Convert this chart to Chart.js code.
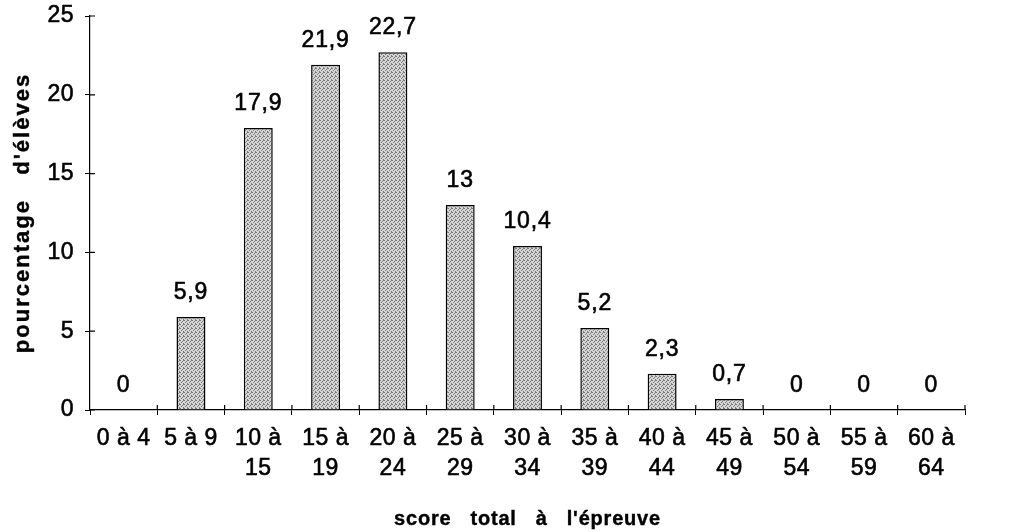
<!DOCTYPE html>
<html>
<head>
<meta charset="utf-8">
<script src="https://cdn.jsdelivr.net/npm/chart.js@4"></script>
<style>
  html, body { margin: 0; padding: 0; background: #fff; }
  #wrap { width: 1013px; height: 532px; }
</style>
</head>
<body>
<div id="wrap"><canvas id="myChart"></canvas></div>
<script>
// score classes and percentage of pupils
const categories = [
  "0 à 4", "5 à 9", ["10 à", "15"], ["15 à", "19"], ["20 à", "24"],
  ["25 à", "29"], ["30 à", "34"], ["35 à", "39"], ["40 à", "44"],
  ["45 à", "49"], ["50 à", "54"], ["55 à", "59"], ["60 à", "64"],
];
const percentages = [0, 5.9, 17.9, 21.9, 22.7, 13, 10.4, 5.2, 2.3, 0.7, 0, 0, 0];
const valueLabels = ["0", "5,9", "17,9", "21,9", "22,7", "13", "10,4", "5,2", "2,3", "0,7", "0", "0", "0"];
const yTicks = [0, 5, 10, 15, 20, 25];
const xTitle = "score   total   à   l'épreuve";
const yTitle = "pourcentage   d'élèves";

const fontFamily = "'Liberation Sans', Arial, Helvetica, sans-serif";

// stippled grey fill, like the printed bars
function makeStipple() {
  const c = document.createElement("canvas");
  c.width = 4;
  c.height = 4;
  const g = c.getContext("2d");
  g.fillStyle = "#d6d6d6";
  g.fillRect(0, 0, 4, 4);
  g.fillStyle = "#7a7a7a";
  [[0, 0], [2, 1], [1, 2], [3, 3], [3, 0]].forEach((p) => g.fillRect(p[0], p[1], 1, 1));
  return g.createPattern(c, "repeat");
}

// slightly wider lettering for the tick text, as in the scan
const spacingPlugin = {
  id: "spacing",
  beforeDraw(chart) {
    chart.ctx.letterSpacing = "0.5px";
  },
};

// short tick marks going inside the plot too (they cross the axes in the original)
const innerTicksPlugin = {
  id: "innerTicks",
  afterDraw(chart) {
    const ctx = chart.ctx;
    const x = chart.scales.x;
    const y = chart.scales.y;
    const area = chart.chartArea;
    ctx.save();
    ctx.strokeStyle = "#000";
    ctx.lineWidth = 1.2;
    ctx.beginPath();
    yTicks.forEach((v) => {
      const py = y.getPixelForValue(v);
      ctx.moveTo(area.left, py);
      ctx.lineTo(area.left + 5, py);
    });
    const half = (x.getPixelForValue(1) - x.getPixelForValue(0)) / 2;
    for (let i = 0; i < categories.length; i++) {
      const px = x.getPixelForValue(i) + half;
      ctx.moveTo(px, area.bottom);
      ctx.lineTo(px, area.bottom - 5);
    }
    ctx.stroke();
    ctx.restore();
  },
};

function heavyText(ctx, text, x, y) {
  ctx.fillText(text, x, y);
  ctx.strokeText(text, x, y);
}

// value written above each bar, and the two axis titles
const labelPlugin = {
  id: "valueLabels",
  afterDatasetsDraw(chart) {
    const ctx = chart.ctx;
    const meta = chart.getDatasetMeta(0);
    const area = chart.chartArea;
    ctx.save();
    ctx.fillStyle = "#000";
    ctx.strokeStyle = "#000";
    ctx.lineWidth = 0.6;
    ctx.font = "23px " + fontFamily;
    ctx.letterSpacing = "0.8px";
    ctx.textAlign = "center";
    ctx.textBaseline = "alphabetic";
    meta.data.forEach((bar, i) => {
      heavyText(ctx, valueLabels[i], bar.x, bar.y - 18);
    });

    ctx.lineWidth = 0.4;
    ctx.font = "bold 20px " + fontFamily;
    ctx.letterSpacing = "0.8px";
    heavyText(ctx, xTitle, (area.left + area.right) / 2, 525);

    ctx.translate(29, (area.top + area.bottom) / 2);
    ctx.rotate(-Math.PI / 2);
    ctx.font = "bold 22px " + fontFamily;
    ctx.letterSpacing = "2px";
    heavyText(ctx, yTitle, 0, 0);
    ctx.restore();
  },
};

const chart_ctx = document.getElementById("myChart");
const data = {
  labels: categories,
  datasets: [
    {
      label: "pourcentage d'élèves",
      data: percentages,
      backgroundColor: makeStipple(),
      borderColor: "#000",
      borderWidth: 1.5,
      barPercentage: 0.43,
      categoryPercentage: 1,
    },
  ],
};

const config = {
  type: "bar",
  data,
  plugins: [spacingPlugin, labelPlugin, innerTicksPlugin],
  options: {
    responsive: true,
    maintainAspectRatio: false,
    animation: false,
    layout: { padding: { top: 16, right: 48, left: 0, bottom: 0 } },
    plugins: {
      legend: { display: false },
      tooltip: { enabled: false },
    },
    scales: {
      x: {
        grid: {
          display: true,
          drawOnChartArea: false,
          drawTicks: true,
          tickLength: 5,
          color: "#000",
          offset: true,
        },
        border: { color: "#000", width: 1.2 },
        ticks: {
          color: "#000",
          textStrokeColor: "#000",
          textStrokeWidth: 0.6,
          font: { size: 23, family: fontFamily, lineHeight: 1.28 },
          padding: 9,
          maxRotation: 0,
          autoSkip: false,
        },
        afterFit(scale) {
          scale.height = 122;
          scale.paddingLeft = 0;
          scale.paddingRight = 0;
        },
      },
      y: {
        min: 0,
        max: 25,
        afterBuildTicks(scale) {
          scale.ticks = yTicks.map((v) => ({ value: v }));
        },
        grid: {
          display: true,
          drawOnChartArea: false,
          drawTicks: true,
          tickLength: 5,
          color: "#000",
        },
        border: { color: "#000", width: 1.2 },
        ticks: {
          color: "#000",
          textStrokeColor: "#000",
          textStrokeWidth: 0.6,
          font: { size: 23, family: fontFamily },
          padding: 11,
        },
        afterFit(scale) {
          scale.width = 90;
          scale.paddingTop = 0;
          scale.paddingBottom = 0;
        },
      },
    },
  },
};

var myChart = new Chart(chart_ctx, config);
</script>
</body>
</html>
